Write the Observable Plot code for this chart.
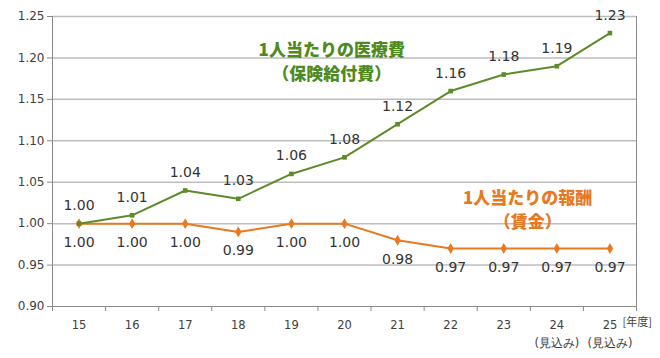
<!DOCTYPE html>
<html><head><meta charset="utf-8">
<script src="https://cdn.jsdelivr.net/npm/d3@7"></script>
<script src="https://cdn.jsdelivr.net/npm/@observablehq/plot@0.6"></script>
<style>body{margin:0;background:#fff;} svg{display:block;}</style>
</head><body><div id="chart"></div>
<script>
const years = [15, 16, 17, 18, 19, 20, 21, 22, 23, 24, 25];
const yearLabels = ["15", "16", "17", "18", "19", "20", "21", "22", "23", "24\n(見込み)", "25\n(見込み)"];
const medical = [1.00, 1.01, 1.04, 1.03, 1.06, 1.08, 1.12, 1.16, 1.18, 1.19, 1.23];
const wage = [1.00, 1.00, 1.00, 0.99, 1.00, 1.00, 0.98, 0.97, 0.97, 0.97, 0.97];
const yTicks = [0.90, 0.95, 1.00, 1.05, 1.10, 1.15, 1.20, 1.25];
const medicalTitle = ["1人当たりの医療費", "（保険給付費）"];
const wageTitle = ["1人当たりの報酬", "（賃金）"];
const unitLabel = "[年度]";

const medData = years.map((y, i) => ({year: y, value: medical[i]}));
const wageData = years.map((y, i) => ({year: y, value: wage[i]}));
const boundaries = years.map(y => y - 0.5).concat([years[years.length - 1] + 0.5]);
const xDomain = [boundaries[0], boundaries[boundaries.length - 1]];
const yDomain = d3.extent(yTicks);

const green = "#5e8b2a";
const orange = "#e8791e";
const fmt = d3.format(".2f");

const chart = Plot.plot({
  width: 660, height: 358,
  marginLeft: 52, marginRight: 24, marginTop: 16, marginBottom: 52,
  style: {fontFamily: "'DejaVu Sans', sans-serif", background: "#fff"},
  x: {type: "linear", domain: xDomain, label: null},
  y: {domain: yDomain, label: null},
  marks: [
    Plot.ruleY(yTicks.slice(1), {stroke: "#bdbdbd", strokeWidth: 1.5}),
    Plot.ruleX([xDomain[1]], {stroke: "#8a8a8a", strokeWidth: 1}),
    Plot.ruleX([xDomain[0]], {stroke: "#8a8a8a", strokeWidth: 1}),
    Plot.ruleY([yDomain[0]], {stroke: "#8a8a8a", strokeWidth: 1}),
    Plot.axisY({ticks: yTicks, tickFormat: fmt, tickSize: 5, tickPadding: 3, fontSize: 12, stroke: "#8a8a8a", fill: "#404040", label: null}),
    Plot.axisX({ticks: boundaries, tickFormat: () => "", tickSize: 5, stroke: "#8a8a8a", label: null}),
    Plot.axisX({ticks: years, tickFormat: d => yearLabels[years.indexOf(d)], tickSize: 0, tickPadding: 10, fontSize: 11.5, lineHeight: 1.55, fill: "#404040", label: null}),
    Plot.text([unitLabel], {frameAnchor: "bottom-right", textAnchor: "start", dx: -14, dy: 16, lineAnchor: "middle", fontSize: 11, fill: "#404040", fontFamily: "'Noto Sans CJK JP', sans-serif"}),
    Plot.line(wageData, {x: "year", y: "value", stroke: orange, strokeWidth: 2}),
    Plot.dot(wageData, {x: "year", y: "value", symbol: "diamond", r: 3.3, fill: orange}),
    Plot.line(medData, {x: "year", y: "value", stroke: green, strokeWidth: 2}),
    Plot.dot(medData, {x: "year", y: "value", symbol: "square", r: 2.6, fill: green}),
    Plot.text(medData, {x: "year", y: "value", text: d => fmt(d.value), dy: -18, fontSize: 14, fill: "#333"}),
    Plot.text(wageData, {x: "year", y: "value", text: d => fmt(d.value), dy: 19, fontSize: 14, fill: "#333"}),
    Plot.text([medicalTitle.join("\n")], {x: 19.76, y: 1.1975, fontSize: 17, fontWeight: 900, lineHeight: 1.47, fill: "#4f8a1f", fontFamily: "'Noto Sans CJK JP', sans-serif"}),
    Plot.text([wageTitle.join("\n")], {x: 23.45, y: 1.0183, fontSize: 17, fontWeight: 900, lineHeight: 1.41, fill: orange, fontFamily: "'Noto Sans CJK JP', sans-serif"})
  ]
});
document.getElementById("chart").appendChild(chart);
</script>
</body></html>
